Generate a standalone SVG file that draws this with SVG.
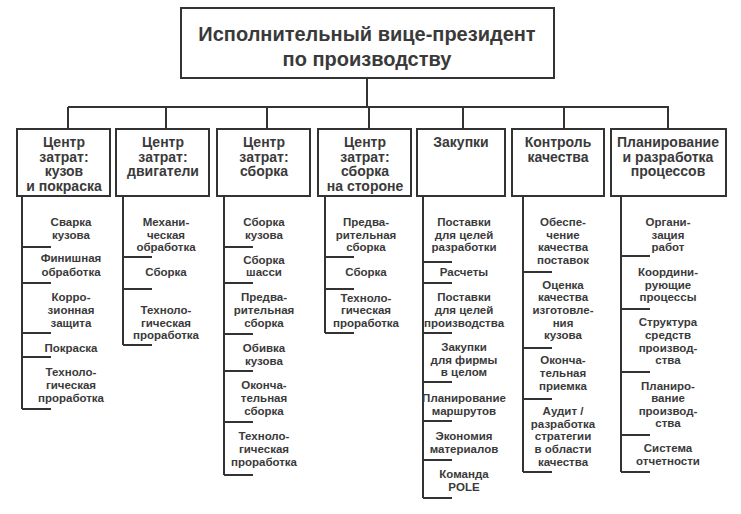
<svg xmlns="http://www.w3.org/2000/svg" width="741" height="514" viewBox="0 0 741 514">
<style>
.b{fill:#fff;stroke:#333;stroke-width:2}
.l{fill:none;stroke:#333;stroke-width:2}
text{font-family:"Liberation Sans",Arial,sans-serif;font-weight:bold;fill:#3a3a3a;text-anchor:middle}
.h{font-size:14px}
.i{font-size:11.5px}
.t{font-size:20px}
</style>
<rect width="741" height="514" fill="#fff"/>
<g id="connectors">
<path class="l" d="M367 78V107M68 107H669M68 107V129M166 107V129M267 107V129M369 107V129M463 107V129M564 107V129M668 107V129"/>
<path class="l" d="M22 196V409M22 247H51M22 283H51M22 333H51M22 357H51M22 409H51"/>
<path class="l" d="M123 196V345M123 257H152M123 289H152M123 345H152"/>
<path class="l" d="M224 196V475M224 247H253M224 283H253M224 334H253M224 371H253M224 422H253M224 475H253"/>
<path class="l" d="M325 196V333M325 257H354M325 289H354M325 333H354"/>
<path class="l" d="M423 196V498M423 262H452M423 283H452M423 333H452M423 382H452M423 421H452M423 460H452M423 498H452"/>
<path class="l" d="M523 196V472M523 272H552M523 348H552M523 399H552M523 472H552"/>
<path class="l" d="M621 196V472M621 256H650M621 309H650M621 372H650M621 435H650M621 472H650"/>
</g>
<g id="top"><rect class="b" x="181" y="8" width="373" height="70"/>
<text class="t" x="367" y="41">Исполнительный вице-президент</text><text class="t" x="367" y="66">по производству</text></g>
<g id="c1"><rect class="b" x="17" y="129" width="93" height="67"/>
<text class="h"><tspan x="64" y="147">Центр</tspan><tspan x="64" y="162">затрат:</tspan><tspan x="64" y="176">кузов</tspan><tspan x="64" y="191">и покраска</tspan></text>
<text class="i"><tspan x="71" y="226">Сварка</tspan><tspan x="71" y="239">кузова</tspan><tspan x="71" y="262">Финишная</tspan><tspan x="71" y="276">обработка</tspan><tspan x="71" y="301">Корро-</tspan><tspan x="71" y="314">зионная</tspan><tspan x="71" y="327">защита</tspan><tspan x="71" y="352">Покраска</tspan><tspan x="71" y="376">Техноло-</tspan><tspan x="71" y="389">гическая</tspan><tspan x="71" y="402">проработка</tspan></text></g>
<g id="c2"><rect class="b" x="116" y="129" width="93" height="67"/>
<text class="h"><tspan x="163" y="147">Центр</tspan><tspan x="163" y="162">затрат:</tspan><tspan x="163" y="176">двигатели</tspan></text>
<text class="i"><tspan x="166" y="226">Механи-</tspan><tspan x="166" y="239">ческая</tspan><tspan x="166" y="251">обработка</tspan><tspan x="166" y="276">Сборка</tspan><tspan x="166" y="314">Техноло-</tspan><tspan x="166" y="327">гическая</tspan><tspan x="166" y="339">проработка</tspan></text></g>
<g id="c3"><rect class="b" x="217" y="129" width="93" height="67"/>
<text class="h"><tspan x="264" y="147">Центр</tspan><tspan x="264" y="162">затрат:</tspan><tspan x="264" y="176">сборка</tspan></text>
<text class="i"><tspan x="264" y="226">Сборка</tspan><tspan x="264" y="239">кузова</tspan><tspan x="264" y="264">Сборка</tspan><tspan x="264" y="276">шасси</tspan><tspan x="264" y="301">Предва-</tspan><tspan x="264" y="314">рительная</tspan><tspan x="264" y="327">сборка</tspan><tspan x="264" y="352">Обивка</tspan><tspan x="264" y="365">кузова</tspan><tspan x="264" y="389">Оконча-</tspan><tspan x="264" y="402">тельная</tspan><tspan x="264" y="415">сборка</tspan><tspan x="264" y="440">Техноло-</tspan><tspan x="264" y="453">гическая</tspan><tspan x="264" y="466">проработка</tspan></text></g>
<g id="c4"><rect class="b" x="318" y="129" width="93" height="67"/>
<text class="h"><tspan x="365" y="147">Центр</tspan><tspan x="365" y="162">затрат:</tspan><tspan x="365" y="176">сборка</tspan><tspan x="365" y="191">на стороне</tspan></text>
<text class="i"><tspan x="366" y="226">Предва-</tspan><tspan x="366" y="239">рительная</tspan><tspan x="366" y="251">сборка</tspan><tspan x="366" y="276">Сборка</tspan><tspan x="366" y="302">Техноло-</tspan><tspan x="366" y="314">гическая</tspan><tspan x="366" y="327">проработка</tspan></text></g>
<g id="c5"><rect class="b" x="417" y="129" width="88" height="67"/>
<text class="h"><tspan x="461" y="147">Закупки</tspan></text>
<text class="i"><tspan x="464" y="226">Поставки</tspan><tspan x="464" y="239">для целей</tspan><tspan x="464" y="251">разработки</tspan><tspan x="464" y="276">Расчеты</tspan><tspan x="464" y="301">Поставки</tspan><tspan x="464" y="314">для целей</tspan><tspan x="464" y="327">производства</tspan><tspan x="464" y="351">Закупки</tspan><tspan x="464" y="364">для фирмы</tspan><tspan x="464" y="376">в целом</tspan><tspan x="464" y="402">Планирование</tspan><tspan x="464" y="415">маршрутов</tspan><tspan x="464" y="440">Экономия</tspan><tspan x="464" y="453">материалов</tspan><tspan x="464" y="478">Команда</tspan><tspan x="464" y="491">POLE</tspan></text></g>
<g id="c6"><rect class="b" x="512" y="129" width="92" height="67"/>
<text class="h"><tspan x="558" y="147">Контроль</tspan><tspan x="558" y="162">качества</tspan></text>
<text class="i"><tspan x="563" y="226">Обеспе-</tspan><tspan x="563" y="239">чение</tspan><tspan x="563" y="251">качества</tspan><tspan x="563" y="264">поставок</tspan><tspan x="563" y="289">Оценка</tspan><tspan x="563" y="301">качества</tspan><tspan x="563" y="314">изготовле-</tspan><tspan x="563" y="327">ния</tspan><tspan x="563" y="339">кузова</tspan><tspan x="563" y="364">Оконча-</tspan><tspan x="563" y="377">тельная</tspan><tspan x="563" y="390">приемка</tspan><tspan x="563" y="415">Аудит /</tspan><tspan x="563" y="428">разработка</tspan><tspan x="563" y="440">стратегии</tspan><tspan x="563" y="453">в области</tspan><tspan x="563" y="466">качества</tspan></text></g>
<g id="c7"><rect class="b" x="611" y="129" width="115" height="67"/>
<text class="h"><tspan x="668" y="147">Планирование</tspan><tspan x="668" y="162">и разработка</tspan><tspan x="668" y="176">процессов</tspan></text>
<text class="i"><tspan x="668" y="226">Органи-</tspan><tspan x="668" y="239">зация</tspan><tspan x="668" y="251">работ</tspan><tspan x="668" y="276">Координи-</tspan><tspan x="668" y="289">рующие</tspan><tspan x="668" y="301">процессы</tspan><tspan x="668" y="326">Структура</tspan><tspan x="668" y="339">средств</tspan><tspan x="668" y="352">производ-</tspan><tspan x="668" y="364">ства</tspan><tspan x="668" y="390">Планиро-</tspan><tspan x="668" y="402">вание</tspan><tspan x="668" y="415">производ-</tspan><tspan x="668" y="427">ства</tspan><tspan x="668" y="452">Система</tspan><tspan x="668" y="465">отчетности</tspan></text></g>
</svg>
